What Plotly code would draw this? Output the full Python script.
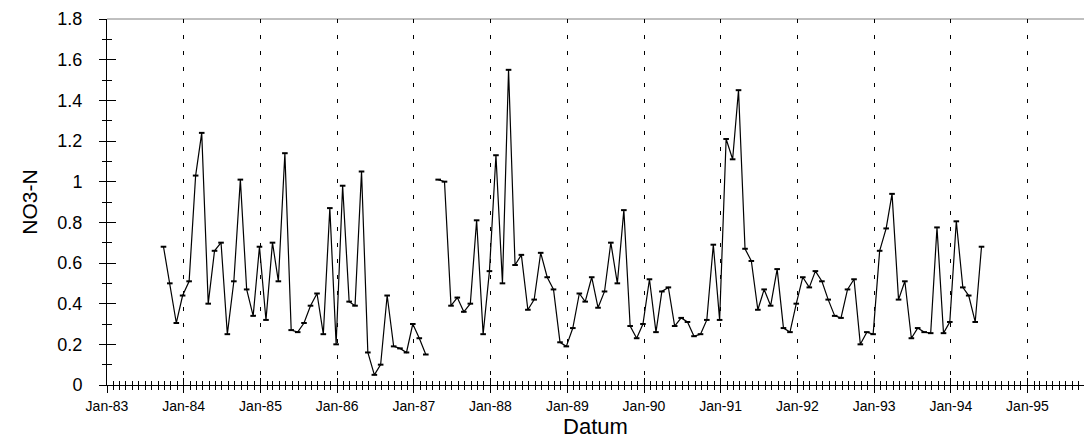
import pandas as pd
import plotly.graph_objects as go

# Monthly NO3-N readings, Sep 1983 - May 1994 (None = no sample)
start_month = "1983-09-01"
no3_n = [
    0.68, 0.50, 0.305, 0.44,                                               # 1983 Sep-Dec
    0.51, 1.03, 1.24, 0.40, 0.66, 0.70, 0.25, 0.51, 1.01, 0.47, 0.34, 0.68,  # 1984
    0.32, 0.70, 0.51, 1.14, 0.27, 0.26, 0.305, 0.39, 0.45, 0.25, 0.87, 0.20, # 1985
    0.98, 0.41, 0.39, 1.05, 0.16, 0.05, 0.10, 0.44, 0.19, 0.18, 0.16, 0.30,  # 1986
    0.23, 0.15, None, 1.01, 1.00, 0.39, 0.43, 0.36, 0.40, 0.81, 0.25, 0.56,  # 1987
    1.13, 0.50, 1.55, 0.59, 0.64, 0.37, 0.42, 0.65, 0.53, 0.47, 0.21, 0.19,  # 1988
    0.28, 0.45, 0.41, 0.53, 0.38, 0.46, 0.70, 0.50, 0.86, 0.29, 0.23, 0.30,  # 1989
    0.52, 0.26, 0.46, 0.48, 0.29, 0.33, 0.31, 0.24, 0.25, 0.32, 0.69, 0.32,  # 1990
    1.21, 1.11, 1.45, 0.67, 0.61, 0.37, 0.47, 0.39, 0.57, 0.28, 0.26, 0.40,  # 1991
    0.53, 0.48, 0.56, 0.51, 0.42, 0.34, 0.33, 0.47, 0.52, 0.20, 0.26, 0.25,  # 1992
    0.66, 0.77, 0.94, 0.42, 0.51, 0.23, 0.28, 0.26, 0.255, 0.775, 0.255, 0.31,  # 1993
    0.805, 0.48, 0.44, 0.31, 0.68,                                         # 1994 Jan-May
]
# samples were taken late in each month
sample_day_offset = 26

x_range = ["1983-01-01", "1995-09-27"]
y_range = [0, 1.8]

dates = pd.date_range(start_month, periods=len(no3_n), freq="MS") + pd.Timedelta(days=sample_day_offset)

FONT = "Liberation Sans, Arial, sans-serif"

fig = go.Figure()
fig.add_trace(go.Scatter(
    x=dates, y=no3_n, mode="lines+markers",
    line=dict(color="black", width=1.2),
    marker=dict(symbol="line-ew", size=4, color="black", line=dict(color="black", width=2)),
    connectgaps=False, showlegend=False, hoverinfo="x+y",
))
# invisible companion trace so the overlay axes (inner half of the crossing ticks) render
fig.add_trace(go.Scatter(
    x=dates, y=no3_n, xaxis="x2", yaxis="y2", mode="none",
    showlegend=False, hoverinfo="skip",
))

common_x = dict(
    type="date", range=x_range, tick0="1983-01-01", dtick="M12",
    showline=True, linecolor="black", linewidth=1, tickcolor="black", tickwidth=1,
    zeroline=False,
)
common_y = dict(
    range=y_range, tick0=0, dtick=0.2,
    showline=True, linecolor="black", linewidth=1, tickcolor="black", tickwidth=1,
    zeroline=False, showgrid=False,
)

fig.update_layout(
    width=1084, height=440,
    margin=dict(l=107, r=0, t=19, b=55),
    paper_bgcolor="white", plot_bgcolor="white",
    font=dict(family=FONT, color="black"),
    xaxis=dict(
        **common_x,
        ticks="outside", ticklen=7,
        minor=dict(ticks="outside", ticklen=4, dtick="M1", tick0="1983-01-01",
                   tickcolor="black", showgrid=False),
        showgrid=True, gridcolor="black", gridwidth=1, griddash="4px,12px",
        tickformat="%b-%y", tickfont=dict(size=14, family=FONT),
        ticklabelstandoff=1,
        title=dict(text="Datum", font=dict(size=22, family=FONT), standoff=4),
    ),
    yaxis=dict(
        **common_y,
        ticks="outside", ticklen=7,
        minor=dict(ticks="outside", ticklen=4, dtick=0.1, tickcolor="black", showgrid=False),
        tickfont=dict(size=18, family=FONT),
        ticklabelstandoff=13,
        title=dict(text="NO3-N", font=dict(size=21, family=FONT), standoff=14),
    ),
    xaxis2=dict(
        **common_x, overlaying="x", anchor="y2", side="bottom",
        ticks="inside", ticklen=7, showticklabels=False, showgrid=False,
        minor=dict(ticks="inside", ticklen=4, dtick="M1", tick0="1983-01-01",
                   tickcolor="black", showgrid=False),
    ),
    yaxis2=dict(
        **common_y, overlaying="y", anchor="x2", side="left",
        ticks="inside", ticklen=9, showticklabels=False,
        minor=dict(ticks="inside", ticklen=5, dtick=0.1, tickcolor="black", showgrid=False),
    ),
    shapes=[dict(type="line", xref="paper", yref="paper", x0=0, x1=1, y0=1, y1=1,
                 line=dict(color="#808080", width=1), layer="below")],
)

fig.write_html("out.html")
